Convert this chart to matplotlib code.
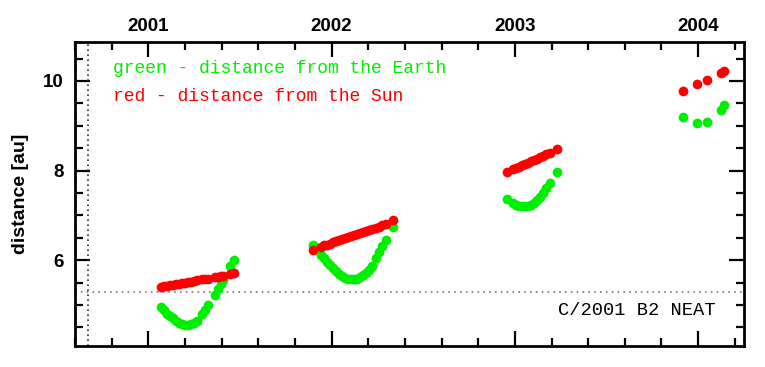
import matplotlib
matplotlib.use("Agg")
import matplotlib.pyplot as plt
from matplotlib.ticker import MultipleLocator

# observation epochs (decimal year) and distances [au], one list per season
t2001 = [2001.069, 2001.086, 2001.102, 2001.118, 2001.135, 2001.151, 2001.167,
         2001.184, 2001.200, 2001.217, 2001.233, 2001.249, 2001.266, 2001.293,
         2001.309, 2001.326, 2001.364, 2001.380, 2001.397, 2001.408, 2001.446,
         2001.468]
earth2001 = [4.95, 4.88, 4.81, 4.75, 4.70, 4.64, 4.60, 4.57, 4.55, 4.55, 4.58,
             4.60, 4.64, 4.79, 4.89, 4.99, 5.22, 5.36, 5.48, 5.55, 5.86, 6.00]
sun2001 = [5.41, 5.42, 5.43, 5.44, 5.45, 5.47, 5.48, 5.49, 5.50, 5.51, 5.52,
           5.54, 5.55, 5.57, 5.58, 5.59, 5.62, 5.63, 5.64, 5.65, 5.70, 5.72]

t2002 = [2001.897, 2001.941, 2001.959, 2001.975, 2001.991, 2002.008, 2002.024,
         2002.040, 2002.057, 2002.073, 2002.090, 2002.106, 2002.122, 2002.139,
         2002.155, 2002.172, 2002.188, 2002.204, 2002.221, 2002.243, 2002.259,
         2002.275, 2002.297, 2002.337]
earth2002 = [6.35, 6.12, 6.04, 5.97, 5.89, 5.82, 5.75, 5.69, 5.65, 5.61, 5.59,
             5.57, 5.57, 5.59, 5.62, 5.67, 5.72, 5.79, 5.88, 6.05, 6.18, 6.32,
             6.45, 6.75]
sun2002 = [6.23, 6.30, 6.33, 6.35, 6.37, 6.40, 6.42, 6.44, 6.47, 6.49, 6.51,
           6.53, 6.56, 6.58, 6.60, 6.63, 6.65, 6.67, 6.70, 6.73, 6.75, 6.78,
           6.81, 6.90]

t2003 = [2002.955, 2002.991, 2003.006, 2003.022, 2003.039, 2003.055, 2003.071,
         2003.088, 2003.104, 2003.120, 2003.137, 2003.153, 2003.170, 2003.191,
         2003.231]
earth2003 = [7.37, 7.27, 7.24, 7.21, 7.20, 7.20, 7.21, 7.23, 7.28, 7.34, 7.42,
             7.51, 7.61, 7.72, 7.98]
sun2003 = [7.98, 8.04, 8.06, 8.09, 8.12, 8.15, 8.18, 8.21, 8.24, 8.27, 8.30,
           8.33, 8.36, 8.40, 8.48]

t2004 = [2003.919, 2003.995, 2004.046, 2004.123, 2004.143]
earth2004 = [9.20, 9.06, 9.09, 9.35, 9.47]
sun2004 = [9.78, 9.93, 10.02, 10.17, 10.22]

year_ticks = [2001, 2002, 2003, 2004]
q_perihelion = 5.30
t_perihelion = 2000.673

GREEN = "#00ee00"
RED = "#ff0000"


def graph():
    fig = plt.figure(figsize=(7.65, 3.67), dpi=100)
    ax = fig.add_axes([0.098, 0.0583, 0.8745, 0.8283])

    # reference lines
    ax.axhline(q_perihelion, color="#777777", lw=1.2, ls=(0, (1, 2.5)))
    ax.axvline(t_perihelion, color="#333333", lw=1.2, ls=(0, (1, 2)))

    seasons = [(t2001, earth2001, sun2001), (t2002, earth2002, sun2002),
               (t2003, earth2003, sun2003), (t2004, earth2004, sun2004)]
    for t, e, s in seasons:
        ax.plot(t, e, "o", color=GREEN, ms=7, mew=0, ls="none")
    for t, e, s in seasons:
        ax.plot(t, s, "o", color=RED, ms=7, mew=0, ls="none")

    ax.set_xlim(2000.6, 2004.25)
    ax.set_ylim(4.094, 10.879)

    # axes frame and ticks
    ax.set_xticks(year_ticks)
    ax.xaxis.set_minor_locator(MultipleLocator(0.2))
    ax.yaxis.set_major_locator(MultipleLocator(2))
    ax.yaxis.set_minor_locator(MultipleLocator(0.5))
    ax.tick_params(which="both", direction="in", top=True, right=True,
                   labelbottom=False, labeltop=True, width=1.6)
    ax.tick_params(which="major", length=11)
    ax.tick_params(which="minor", length=5.5)
    ax.tick_params(axis="x", pad=5)
    ax.tick_params(axis="y", pad=8)
    for sp in ax.spines.values():
        sp.set_linewidth(2.0)
    for lab in ax.get_xticklabels() + ax.get_yticklabels():
        lab.set_fontfamily("Liberation Sans")
        lab.set_fontweight("bold")
        lab.set_fontsize(13.5)
    ax.set_ylabel("distance [au]", fontfamily="Liberation Sans",
                  fontweight="bold", fontsize=14, labelpad=10)

    # annotations
    ax.text(0.057, 0.913, "green - distance from the Earth", color=GREEN,
            transform=ax.transAxes, va="center", ha="left",
            fontfamily="Liberation Mono", fontsize=13)
    ax.text(0.057, 0.819, "red - distance from the Sun", color=RED,
            transform=ax.transAxes, va="center", ha="left",
            fontfamily="Liberation Mono", fontsize=13)
    ax.text(0.957, 0.117, "C/2001 B2 NEAT", color="black",
            transform=ax.transAxes, va="center", ha="right",
            fontfamily="Liberation Mono", fontsize=13.5)

    fig.savefig("out.png", dpi=100)


if __name__ == '__main__':
    graph()
